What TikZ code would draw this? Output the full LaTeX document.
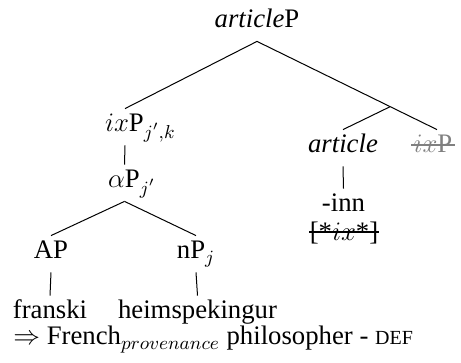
\RequirePackage{fix-cm}
\documentclass[tikz,border=0pt]{standalone}
\usepackage{fontspec}
\setmainfont{Liberation Serif}
\newcommand{\subrlap}[1]{\rlap{$\scriptstyle #1$}}
\begin{document}
\begin{tikzpicture}[x=0.5pt,y=-0.5pt,
  font=\fontsize{13.37}{16}\selectfont,
  tl/.style={anchor=base, inner xsep=0pt, inner ysep=2.5pt, text height=9pt, text depth=4pt},
  leaf/.style={tl, inner ysep=0pt, text height=11.5pt, text depth=1pt},
  edge/.style={line width=0.5pt},
  strike/.style={line width=0.55pt}]
\useasboundingbox (0,0) rectangle (461,363);
% nodes
\node[tl] (root) at (257,28) {\textit{article}P};
\node[tl] (ixl) at (125,132) {$ix\mathrm{P}_{\subrlap{j',k}}$};
\node[tl] (alp) at (124.5,188) {$\alpha\mathrm{P}_{\subrlap{j'}}$};
\node[tl] (ap) at (51,259) {AP};
\node[tl] (np) at (196,259) {nP$_j$};
\node[leaf] (fr) at (50,319) {franski};
\node[leaf] (he) at (197.5,319) {heimspekingur};
\node[tl] (art) at (343,153) {\textit{article}};
\node[tl, text=gray] (ixr) at (433,153) {$ix\mathrm{P}$};
\node[tl] (inn) at (343.5,212) {-inn};
\node[leaf] (feat) at (344,241) {[*$ix$*]};
\node[anchor=base west, inner sep=0pt] (gloss) at (13,345)
  {$\Rightarrow$ French$_{provenance}$ philosopher - {\fontsize{10}{12}\selectfont DEF}};
% strikes
\draw[strike, gray] ([yshift=4pt,xshift=-1pt]ixr.base west) -- ([yshift=4pt,xshift=1pt]ixr.base east);
\draw[strike] ([yshift=4.5pt]feat.base west) -- ([yshift=4.5pt]feat.base east);
% edges
\draw[edge] (root.south) -- (ixl.north);
\draw[edge] (root.south) -- ([xshift=2pt]ixr.north) coordinate[pos=0.74] (mid);
\draw[edge] (mid) -- (art.north);
\draw[edge] (ixl.south) -- (alp.north);
\draw[edge] (alp.south) -- (ap.north);
\draw[edge] (alp.south) -- (np.north);
\draw[edge] (ap.south) -- (fr.north);
\draw[edge] (np.south) -- (he.north);
\draw[edge] (art.south) -- (inn.north);
\end{tikzpicture}
\end{document}
